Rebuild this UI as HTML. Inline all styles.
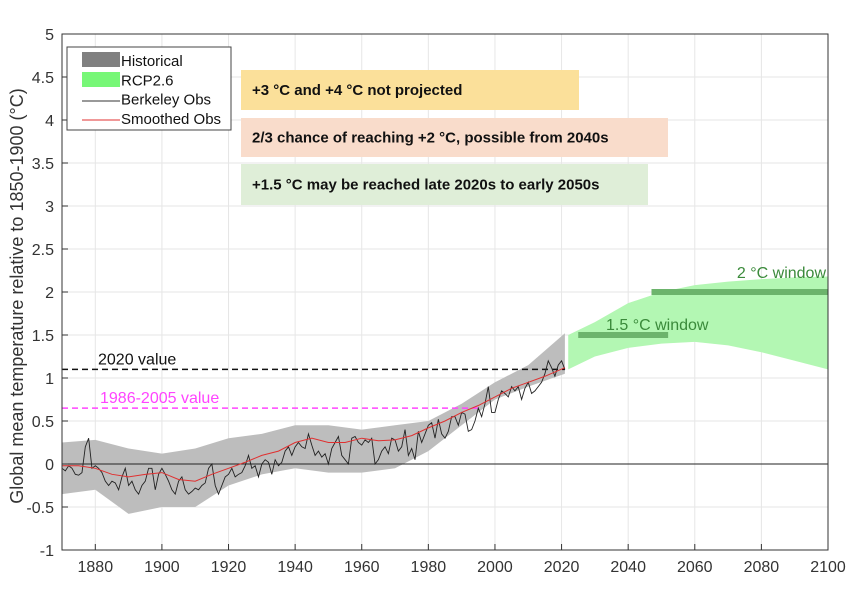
<!DOCTYPE html>
<html><head><meta charset="utf-8"><style>
body{margin:0;background:#fff;font-family:"Liberation Sans",Arial,sans-serif}
svg text{font-family:"Liberation Sans",Arial,sans-serif}
</style></head><body>
<svg id="c" width="850" height="595"></svg>
<script>
const obsStart=1870;
const obsValues=[-0.05,-0.08,-0.02,-0.05,-0.12,-0.13,-0.1,0.2,0.3,-0.05,
-0.02,-0.05,-0.1,-0.2,-0.25,-0.2,-0.22,-0.3,-0.15,-0.05,
-0.25,-0.2,-0.3,-0.35,-0.25,-0.2,-0.05,-0.05,-0.3,-0.12,
-0.05,-0.12,-0.2,-0.3,-0.35,-0.2,-0.15,-0.3,-0.35,-0.32,
-0.28,-0.3,-0.25,-0.22,-0.05,0.0,-0.25,-0.35,-0.25,-0.15,
-0.12,-0.05,-0.15,-0.12,-0.1,-0.02,0.1,-0.05,-0.02,-0.15,
0.0,0.05,0.02,-0.12,0.05,-0.02,0.02,0.15,0.2,0.1,
0.2,0.25,0.2,0.18,0.35,0.22,0.1,0.15,0.08,0.12,
0.0,0.18,0.25,0.32,0.1,0.05,0.0,0.3,0.32,0.25,
0.22,0.28,0.25,0.3,0.0,0.05,0.15,0.2,0.12,0.3,
0.28,0.15,0.2,0.4,0.1,0.18,0.05,0.38,0.25,0.35,
0.45,0.48,0.3,0.52,0.35,0.3,0.38,0.55,0.55,0.45,
0.6,0.58,0.38,0.4,0.5,0.65,0.55,0.7,0.9,0.6,
0.6,0.75,0.85,0.82,0.78,0.9,0.85,0.9,0.75,0.88,
0.95,0.82,0.85,0.9,0.95,1.05,1.2,1.12,1.02,1.15,
1.2,1.1];
const smoothYears=[1870,1875,1880,1885,1890,1895,1900,1905,1910,1915,1920,1925,1930,1935,1940,1945,1950,1955,1960,1965,1970,1975,1980,1985,1990,1995,2000,2005,2010,2015,2021];
const smoothValues=[-0.02,-0.02,-0.05,-0.12,-0.15,-0.12,-0.1,-0.18,-0.2,-0.12,-0.05,0.02,0.1,0.15,0.25,0.3,0.25,0.25,0.3,0.27,0.28,0.33,0.42,0.5,0.6,0.68,0.78,0.88,0.95,1.02,1.12];
const histYears=[1870,1880,1890,1900,1910,1920,1930,1940,1950,1960,1970,1980,1990,2000,2010,2021];
const histLower=[-0.35,-0.3,-0.58,-0.5,-0.5,-0.25,-0.12,-0.05,-0.1,-0.1,-0.05,0.15,0.45,0.75,0.9,1.05];
const histUpper=[0.25,0.28,0.18,0.12,0.18,0.3,0.35,0.45,0.45,0.4,0.45,0.5,0.7,0.95,1.15,1.52];
const rcpYears=[2022,2030,2040,2050,2060,2070,2080,2090,2100];
const rcpLower=[1.1,1.25,1.35,1.4,1.42,1.38,1.3,1.2,1.1];
const rcpUpper=[1.5,1.65,1.87,2.0,2.08,2.12,2.15,2.17,2.18];
const xTicks=[1880,1900,1920,1940,1960,1980,2000,2020,2040,2060,2080,2100];
const yTicks=[-1,-0.5,0,0.5,1,1.5,2,2.5,3,3.5,4,4.5,5];
const yTickLabels=["-1","-0.5","0","0.5","1","1.5","2","2.5","3","3.5","4","4.5","5"];
const value2020=1.1, value1986=0.65;

const X0=62,X1=828,Y0=550,Y1=34;
const x=v=>X0+(v-1870)/(2100-1870)*(X1-X0);
const y=v=>Y0-(v+1)/6*(Y0-Y1);
const svg=document.getElementById('c');
const NS='http://www.w3.org/2000/svg';
function mk(t,a,p){const e=document.createElementNS(NS,t);for(const k in a)e.setAttribute(k,a[k]);(p||svg).appendChild(e);return e;}

xTicks.forEach(t=>{const l=mk('line',{x1:x(t),x2:x(t),y1:Y1,y2:Y0,stroke:'#e6e6e6'});

});
yTicks.forEach(t=>{const l=mk('line',{x1:X0,x2:X1,y1:y(t),y2:y(t),stroke:'#e6e6e6'});

});

function band(xs,lo,hi,fill,name){
  let d='M'+xs.map((v,i)=>x(v)+','+y(hi[i])).join('L');
  for(let i=xs.length-1;i>=0;i--)d+='L'+x(xs[i])+','+y(lo[i]);
  const p=mk('path',{d:d+'Z',fill:fill});
  
  
}
band(histYears,histLower,histUpper,'#bdbdbd','historical-band');
band(rcpYears,rcpLower,rcpUpper,'#b3f7b3','rcp26-band');

const z=mk('line',{x1:X0,x2:X1,y1:y(0),y2:y(0),stroke:'#222','stroke-width':1});



const r1=mk('line',{x1:X0,x2:x(2021),y1:y(value2020),y2:y(value2020),stroke:'#111','stroke-width':1.5,'stroke-dasharray':'6,4'});


const r2=mk('line',{x1:X0,x2:x(1996),y1:y(value1986),y2:y(value1986),stroke:'#ff44ff','stroke-width':1.5,'stroke-dasharray':'6,4'});


let t=mk('text',{x:98,y:y(value2020)-5,'font-size':16,fill:'#111'});t.textContent='2020 value';


t=mk('text',{x:100,y:y(value1986)-5,'font-size':16,fill:'#ff44ff'});t.textContent='1986-2005 value';



const ob=mk('polyline',{points:obsValues.map((v,i)=>x(obsStart+i)+','+y(v)).join(' '),fill:'none',stroke:'#222','stroke-width':0.9});


const sm=mk('polyline',{points:smoothValues.map((v,i)=>x(smoothYears[i])+','+y(v)).join(' '),fill:'none',stroke:'#e03030','stroke-width':1});



const w1=mk('line',{x1:x(2025),x2:x(2052),y1:y(1.5),y2:y(1.5),stroke:'#6cb46c','stroke-width':6});


const w2=mk('line',{x1:x(2047),x2:x(2100),y1:y(2),y2:y(2),stroke:'#6cb46c','stroke-width':6});


t=mk('text',{x:606,y:330,'font-size':16,fill:'#3a8a3a'});t.textContent='1.5 °C window';


t=mk('text',{x:826,y:278,'font-size':16,fill:'#3a8a3a','text-anchor':'end'});t.textContent='2 °C window';



[[241,70,338,40,'#fbe09a','+3 °C and +4 °C not projected'],
 [241,118,427,39,'#f9dccb','2/3 chance of reaching +2 °C, possible from 2040s'],
 [241,164,407,41,'#dfeed8','+1.5 °C may be reached late 2020s to early 2050s']].forEach((b,i)=>{
  const r=mk('rect',{x:b[0],y:b[1],width:b[2],height:b[3],fill:b[4]});
  
  
  const tx=mk('text',{x:b[0]+11,y:b[1]+b[3]/2+5,'font-size':15,'font-weight':'bold',fill:'#111'});tx.textContent=b[5];
  
  
});

const fr=mk('rect',{x:X0,y:Y1,width:X1-X0,height:Y0-Y1,fill:'none',stroke:'#333','stroke-width':1});


xTicks.forEach(v=>{mk('line',{x1:x(v),x2:x(v),y1:Y0,y2:Y0-6,stroke:'#333'});
 const l=mk('text',{x:x(v),y:Y0+22,'font-size':16,fill:'#333','text-anchor':'middle'});l.textContent=v;
 
 });
yTicks.forEach((v,i)=>{mk('line',{x1:X0,x2:X0+6,y1:y(v),y2:y(v),stroke:'#333'});
 const l=mk('text',{x:X0-8,y:y(v)+6,'font-size':16,fill:'#333','text-anchor':'end'});l.textContent=yTickLabels[i];
 
 });
t=mk('text',{transform:'translate(23,296) rotate(-90)','font-size':18,fill:'#333','text-anchor':'middle'});
t.textContent='Global mean temperature relative to 1850-1900 (°C)';



const lg=mk('g',{});


mk('rect',{x:67,y:47,width:164,height:83,fill:'#fff',stroke:'#444'},lg);
mk('rect',{x:82,y:52,width:38,height:15,fill:'#808080'},lg);
mk('rect',{x:82,y:72,width:38,height:15,fill:'#77f777'},lg);
mk('line',{x1:82,x2:120,y1:101,y2:101,stroke:'#333'},lg);
mk('line',{x1:82,x2:120,y1:120,y2:120,stroke:'#e03030'},lg);
['Historical','RCP2.6','Berkeley Obs','Smoothed Obs'].forEach((s,i)=>{
 const l=mk('text',{x:121,y:66+i*19.3,'font-size':15,fill:'#111'},lg);l.textContent=s;
 
 });
</script>
</body></html>
